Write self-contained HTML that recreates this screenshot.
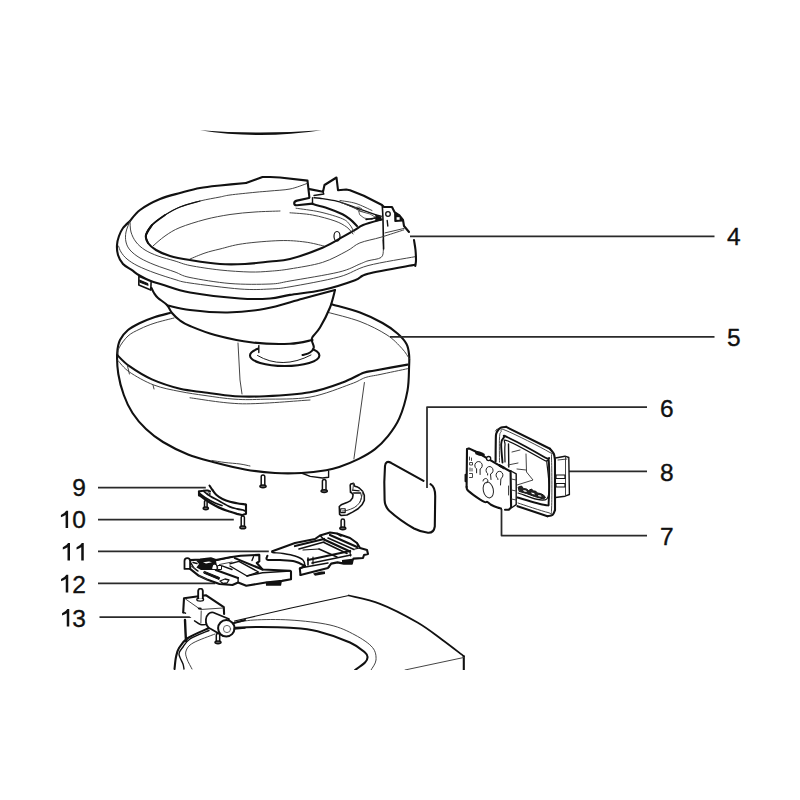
<!DOCTYPE html>
<html><head><meta charset="utf-8">
<style>
html,body{margin:0;padding:0;background:#fff;width:800px;height:800px;overflow:hidden}
svg{display:block}
text{font-family:"Liberation Sans",sans-serif;font-size:24.5px;fill:#111;stroke:#111;stroke-width:0.35}
</style></head><body>
<svg width="800" height="800" viewBox="0 0 800 800" stroke-linecap="round" stroke-linejoin="round">
<path d="M200 130.2 Q260 134.8 321.5 130.2 Q260 139.8 200 130.2Z" fill="#111"/>
<path d="M170.0 313.0 C154.2 315.8 160.0 315.3 155.0 317.0 C150.0 318.7 144.5 320.8 140.0 323.0 C135.5 325.2 131.3 327.2 128.0 330.0 C124.7 332.8 121.8 336.2 120.0 340.0 C118.2 343.8 117.5 347.3 117.2 353.0 C116.9 358.7 117.2 367.0 118.3 374.0 C119.4 381.0 121.4 388.5 123.8 395.0 C126.1 401.5 128.8 407.3 132.5 413.0 C136.2 418.7 140.9 424.2 146.0 429.0 C151.1 433.8 156.0 437.8 163.0 442.0 C170.0 446.2 179.7 451.2 188.0 454.5 C196.3 457.8 203.5 459.5 213.0 462.0 C222.5 464.5 234.7 467.7 245.0 469.5 C255.3 471.3 265.6 472.4 275.0 473.0 C284.4 473.6 293.0 473.5 301.5 473.0 C310.0 472.5 320.0 471.2 326.2 470.2 C332.5 469.2 333.8 468.9 339.2 467.0 C344.7 465.1 352.8 461.9 358.8 458.9 C364.7 455.9 370.1 452.9 375.0 449.1 C379.9 445.3 383.9 441.2 388.0 436.1 C392.1 431.0 396.1 425.8 399.4 418.2 C402.6 410.7 405.9 399.3 407.5 390.6 C409.1 381.9 408.8 372.2 409.1 366.2 C409.4 360.3 409.5 358.6 409.1 354.9 C408.7 351.2 408.4 347.6 406.5 344.0 C404.6 340.4 401.5 337.0 397.5 333.5 C393.5 330.0 388.8 326.5 382.5 323.0 C376.2 319.5 368.5 315.6 360.0 312.5 C351.5 309.4 349.8 306.4 331.5 304.3 C313.2 302.2 276.9 298.6 250.0 300.0 C223.1 301.4 185.8 310.2 170.0 313.0Z" fill="#fff" stroke="none"/>
<path d="M170.0 313.0 C167.5 313.7 160.0 315.3 155.0 317.0 C150.0 318.7 144.5 320.8 140.0 323.0 C135.5 325.2 131.3 327.2 128.0 330.0 C124.7 332.8 121.8 336.2 120.0 340.0 C118.2 343.8 117.5 347.3 117.2 353.0 C116.9 358.7 117.2 367.0 118.3 374.0 C119.4 381.0 121.4 388.5 123.8 395.0 C126.1 401.5 128.8 407.3 132.5 413.0 C136.2 418.7 140.9 424.2 146.0 429.0 C151.1 433.8 156.0 437.8 163.0 442.0 C170.0 446.2 179.7 451.2 188.0 454.5 C196.3 457.8 203.5 459.5 213.0 462.0 C222.5 464.5 234.7 467.7 245.0 469.5 C255.3 471.3 265.6 472.4 275.0 473.0 C284.4 473.6 293.0 473.5 301.5 473.0 C310.0 472.5 320.0 471.2 326.2 470.2 C332.5 469.2 333.8 468.9 339.2 467.0 C344.7 465.1 352.8 461.9 358.8 458.9 C364.7 455.9 370.1 452.9 375.0 449.1 C379.9 445.3 383.9 441.2 388.0 436.1 C392.1 431.0 396.1 425.8 399.4 418.2 C402.6 410.7 405.9 399.3 407.5 390.6 C409.1 381.9 408.8 372.2 409.1 366.2 C409.4 360.3 409.5 358.6 409.1 354.9 C408.7 351.2 408.4 347.6 406.5 344.0 C404.6 340.4 401.5 337.0 397.5 333.5 C393.5 330.0 388.8 326.5 382.5 323.0 C376.2 319.5 368.5 315.6 360.0 312.5 C351.5 309.4 336.2 305.7 331.5 304.3" fill="none" stroke="#111" stroke-width="2.10"/>
<path d="M174.0 318.0 C170.8 318.8 160.7 321.2 155.0 323.0 C149.3 324.8 144.5 326.8 140.0 329.0 C135.5 331.2 131.5 332.8 128.0 336.0 C124.5 339.2 120.7 344.7 119.0 348.0 C117.3 351.3 118.2 354.7 118.0 356.0" fill="none" stroke="#3a3a3a" stroke-width="0.95"/>
<path d="M328.5 312.5 C333.8 314.0 350.2 317.8 360.0 321.5 C369.8 325.2 380.0 330.5 387.0 335.0 C394.0 339.5 398.2 344.5 402.0 348.5 C405.8 352.5 408.2 357.2 409.5 359.0" fill="none" stroke="#3a3a3a" stroke-width="0.95"/>
<path d="M117.2 355.0 C119.2 356.9 123.6 362.2 129.4 366.2 C135.2 370.3 143.5 375.6 151.9 379.4 C160.3 383.1 171.2 386.6 180.0 388.8 C188.8 390.9 195.8 391.2 205.0 392.5 C214.2 393.8 225.0 395.6 235.0 396.2 C245.0 396.9 252.5 396.9 265.0 396.2 C277.5 395.6 297.1 394.5 310.0 392.2 C322.9 390.0 333.6 385.8 342.5 382.5 C351.4 379.2 358.2 374.8 363.6 372.8 C369.0 370.8 367.7 371.9 375.0 370.5 C382.3 369.1 402.1 365.6 407.5 364.6" fill="none" stroke="#111" stroke-width="2.10"/>
<path d="M118.0 360.6 C119.9 362.5 123.4 367.9 129.4 372.0 C135.4 376.1 145.3 381.8 153.8 385.0 C162.2 388.2 171.5 389.8 180.0 391.5 C188.5 393.2 195.8 394.2 205.0 395.5 C214.2 396.8 225.0 398.6 235.0 399.2 C245.0 399.9 252.5 399.6 265.0 399.2 C277.5 398.9 295.7 399.6 310.0 397.1 C324.3 394.6 341.4 387.4 350.6 384.1 C359.8 380.9 360.4 379.2 365.2 377.6 C370.1 376.0 373.0 376.0 380.0 374.5 C387.0 373.0 402.9 369.7 407.5 368.7" fill="none" stroke="#3a3a3a" stroke-width="0.95"/>
<path d="M190.0 397.8 C198.8 398.8 222.5 403.4 242.5 403.8 C262.5 404.1 298.8 400.6 310.0 400.0" fill="none" stroke="#3a3a3a" stroke-width="0.95"/>
<path d="M127.5 366.0 L129.4 374.0" fill="none" stroke="#3a3a3a" stroke-width="0.95"/>
<path d="M153.0 385.0 L154.0 389.0" fill="none" stroke="#3a3a3a" stroke-width="0.95"/>
<path d="M238.0 343.0 L240.0 380.0 L242.0 394.0" fill="none" stroke="#3a3a3a" stroke-width="0.95"/>
<path d="M364.4 382.5 L353.9 458.9" fill="none" stroke="#3a3a3a" stroke-width="0.95"/>
<ellipse cx="284.7" cy="355.5" rx="34.7" ry="10.5" fill="#fff" stroke="#111" stroke-width="2.1"/>
<path d="M257.5 355.5 Q282 370 311 355" fill="none" stroke="#111" stroke-width="0.95"/>
<path d="M130.0 221.0 L140.0 210.0 L160.0 200.0 L190.0 189.0 L205.0 187.5 L230.0 183.8 L246.0 183.0 L262.5 177.0 L270.0 177.0 L307.5 180.6 L323.8 192.5 L337.5 177.5 L346.0 189.4 L381.0 205.0 L393.8 207.5 L401.0 217.5 L409.0 232.5 L415.6 248.8 L415.0 266.0 L370.0 272.5 L345.0 283.8 L335.0 290.0 L328.8 306.0 L320.0 325.0 L312.5 336.0 L312.0 341.0 L313.8 347.5 L310.0 352.5 L258.8 352.5 L258.8 345.6 L230.0 340.0 L190.0 324.0 L176.0 316.0 L168.0 307.0 L154.0 296.0 L151.0 284.0 L130.0 270.0 L118.0 255.0 L117.0 245.0 L123.0 228.0Z" fill="#fff" stroke="none"/>
<path d="M130.0 221.0 C131.7 219.2 135.0 213.7 140.0 210.0 C145.0 206.3 153.3 201.8 160.0 199.0 C166.7 196.2 173.3 194.8 180.0 193.0 C186.7 191.2 193.3 189.2 200.0 188.0 C206.7 186.8 212.3 186.3 220.0 185.5 C227.7 184.7 241.7 183.4 246.0 183.0" fill="none" stroke="#111" stroke-width="2.10"/>
<path d="M246.0 183.0 L262.5 177.0 L270.0 177.0 L280.0 177.5 L307.5 180.6 L309.4 197.5" fill="none" stroke="#111" stroke-width="2.10"/>
<path d="M130.0 221.0 C128.8 222.2 124.8 225.5 123.0 228.0 C121.2 230.5 120.0 233.2 119.0 236.0 C118.0 238.8 117.2 241.8 117.0 245.0 C116.8 248.2 117.0 251.8 118.0 255.0 C119.0 258.2 120.7 261.5 123.0 264.0 C125.3 266.5 129.2 268.3 132.0 270.2 C134.8 272.2 136.4 273.7 139.5 275.5 C142.6 277.3 147.0 279.6 150.8 281.1 C154.5 282.6 155.5 282.6 162.0 284.5 C168.5 286.4 177.0 290.2 190.0 292.5 C203.0 294.8 226.7 297.5 240.0 298.5 C253.3 299.5 261.7 299.1 270.0 298.5 C278.3 297.9 281.2 296.3 290.0 294.9 C298.8 293.5 311.7 292.4 322.5 290.0 C333.3 287.6 347.4 283.0 355.0 280.2 C362.6 277.5 358.0 276.3 368.0 273.8 C378.0 271.2 407.2 266.3 415.1 264.8" fill="none" stroke="#111" stroke-width="2.10"/>
<path d="M130.0 221.0 C129.3 222.8 126.7 228.5 126.0 232.0 C125.3 235.5 125.3 239.0 126.0 242.0 C126.7 245.0 127.7 247.3 130.0 250.0 C132.3 252.7 135.8 255.5 140.0 258.0 C144.2 260.5 149.2 262.7 155.0 265.0 C160.8 267.3 169.2 269.9 175.0 272.0 C180.8 274.1 180.8 275.6 190.0 277.5 C199.2 279.4 216.7 282.4 230.0 283.5 C243.3 284.6 260.0 284.4 270.0 284.0 C280.0 283.6 278.5 283.0 290.0 281.0 C301.5 279.0 327.1 274.9 338.8 272.1 C350.4 269.3 355.0 265.9 359.9 264.0 C364.8 262.1 364.5 261.8 368.0 260.8 C371.5 259.7 378.4 259.4 381.0 257.5 C383.6 255.6 383.1 252.3 383.4 249.4 C383.7 246.5 383.1 241.6 383.0 240.0" fill="none" stroke="#3a3a3a" stroke-width="0.95"/>
<path d="M382.3 205.9 C382.4 207.8 382.7 212.2 382.9 217.0 C383.1 221.8 383.2 229.7 383.3 235.0 C383.4 240.3 383.6 246.7 383.6 249.0" fill="none" stroke="#111" stroke-width="1.60"/>
<path d="M118.5 246.0 C118.9 247.0 119.6 249.8 121.0 252.0 C122.4 254.2 124.2 256.7 127.0 259.0 C129.8 261.3 133.3 263.7 138.0 266.0 C142.7 268.3 148.8 270.8 155.0 273.0 C161.2 275.2 169.2 277.8 175.0 279.5 C180.8 281.2 179.2 281.4 190.0 283.0 C200.8 284.6 226.7 288.0 240.0 289.0 C253.3 290.0 261.7 289.4 270.0 289.0 C278.3 288.6 278.5 288.8 290.0 286.8 C301.5 284.8 325.8 280.5 338.8 277.0 C351.8 273.5 355.3 269.0 368.0 265.6 C380.7 262.2 407.2 258.2 415.1 256.7" fill="none" stroke="#3a3a3a" stroke-width="0.95"/>
<path d="M130.0 221.0 C130.2 222.8 130.0 228.5 131.0 232.0 C132.0 235.5 133.7 239.0 136.0 242.0 C138.3 245.0 141.3 247.7 145.0 250.0 C148.7 252.3 153.0 254.2 158.0 256.0 C163.0 257.8 169.7 259.4 175.0 261.0 C180.3 262.6 182.5 264.0 190.0 265.5 C197.5 267.0 210.0 268.9 220.0 270.0 C230.0 271.1 241.7 271.8 250.0 272.0 C258.3 272.2 263.3 271.7 270.0 271.2 C276.7 270.7 281.2 270.4 290.0 268.9 C298.8 267.4 313.0 265.4 322.5 262.4 C332.0 259.4 340.7 254.2 346.9 251.0 C353.1 247.8 354.2 245.2 359.9 242.9 C365.6 240.6 373.7 239.4 381.0 237.2 C388.3 235.0 400.0 231.1 403.8 229.9" fill="none" stroke="#3a3a3a" stroke-width="0.95"/>
<path d="M307.0 183.5 C304.2 184.4 296.2 187.8 290.0 189.0 C283.8 190.2 275.8 190.4 270.0 191.0 C264.2 191.6 261.7 191.6 255.0 192.3 C248.3 193.0 235.8 194.2 230.0 195.0 C224.2 195.8 225.0 196.0 220.0 197.0 C215.0 198.0 206.7 199.3 200.0 201.0 C193.3 202.7 185.8 204.7 180.0 207.0 C174.2 209.3 167.5 213.7 165.0 215.0" fill="none" stroke="#3a3a3a" stroke-width="0.95"/>
<path d="M200.0 201.0 C196.7 202.0 185.8 204.7 180.0 207.0 C174.2 209.3 169.7 212.0 165.0 215.0 C160.3 218.0 155.2 221.7 152.0 225.0 C148.8 228.3 147.0 233.3 146.0 235.0" fill="none" stroke="#111" stroke-width="1.20"/>
<path d="M165.0 215.0 C162.8 216.7 155.2 221.7 152.0 225.0 C148.8 228.3 146.7 232.0 146.0 235.0 C145.3 238.0 147.7 241.7 148.0 243.0" fill="none" stroke="#111" stroke-width="1.60"/>
<path d="M152.0 225.0 C151.0 226.7 146.7 232.0 146.0 235.0 C145.3 238.0 146.3 240.5 148.0 243.0 C149.7 245.5 152.3 247.8 156.0 250.0 C159.7 252.2 164.3 254.3 170.0 256.0 C175.7 257.7 181.7 258.7 190.0 260.0 C198.3 261.3 210.8 263.3 220.0 264.0 C229.2 264.7 236.7 264.4 245.0 264.0 C253.3 263.6 262.5 262.3 270.0 261.5 C277.5 260.7 281.2 261.4 290.0 259.1 C298.8 256.8 313.6 251.5 322.5 247.8 C331.4 244.0 338.2 239.4 343.6 236.4 C349.0 233.4 351.8 231.8 355.0 229.9 C358.2 228.0 358.6 226.8 363.1 225.0 C367.6 223.2 378.6 220.3 381.8 219.4" fill="none" stroke="#111" stroke-width="2.10"/>
<path d="M280.0 211.0 C275.8 211.2 263.3 211.4 255.0 212.0 C246.7 212.6 238.3 213.2 230.0 214.5 C221.7 215.8 213.3 217.3 205.0 219.5 C196.7 221.7 186.7 224.8 180.0 227.5 C173.3 230.2 169.5 232.9 165.0 236.0 C160.5 239.1 155.0 244.3 153.0 246.0" fill="none" stroke="#3a3a3a" stroke-width="0.95"/>
<path d="M190.0 259.0 C192.5 258.0 200.0 254.7 205.0 253.0 C210.0 251.3 213.8 250.5 220.0 249.0 C226.2 247.5 232.5 245.2 242.5 243.8 C252.5 242.3 269.6 240.9 280.0 240.6 C290.4 240.3 297.7 241.1 305.0 242.0 C312.3 242.9 320.6 245.3 323.8 246.0" fill="none" stroke="#3a3a3a" stroke-width="0.95"/>
<path d="M138.9 276.3 L151.1 281.5 L150.8 290.1 L138.8 284.9Z" fill="#fff" stroke="#111" stroke-width="1.6"/>
<path d="M139.8 280.2 L147.5 283.5 L148 285.2 L140 282.3Z" fill="#111" stroke="#111" stroke-width="1.2"/>
<path d="M151.5 288.0 C151.9 288.8 152.9 291.3 154.0 293.0 C155.1 294.7 155.8 296.0 158.0 298.0 C160.2 300.0 164.7 302.5 167.0 305.0 C169.3 307.5 169.8 310.4 172.0 313.0 C174.2 315.6 177.0 318.3 180.0 320.5 C183.0 322.7 184.2 323.6 190.0 326.0 C195.8 328.4 204.6 332.2 215.0 335.0 C225.4 337.8 240.0 341.0 252.5 342.5 C265.0 344.0 280.0 344.2 290.0 343.8 C300.0 343.3 308.8 340.6 312.5 340.0" fill="none" stroke="#111" stroke-width="2.10"/>
<path d="M167.5 305.5 C171.2 306.2 180.0 308.8 190.0 310.0 C200.0 311.2 215.0 312.7 227.5 312.5 C240.0 312.3 252.5 311.0 265.0 308.8 C277.5 306.5 290.8 301.9 302.5 298.8 C314.2 295.6 329.6 291.5 335.0 290.0" fill="none" stroke="#111" stroke-width="2.10"/>
<path d="M335.0 290.0 C334.2 292.9 332.5 301.2 330.0 307.5 C327.5 313.8 322.9 322.6 320.0 327.5 C317.1 332.4 313.8 334.8 312.5 337.0 C311.2 339.2 311.8 339.2 312.0 341.0 C312.2 342.8 314.1 345.6 313.8 347.5 C313.4 349.4 311.9 351.2 310.0 352.5 C308.1 353.8 303.8 354.6 302.5 355.0" fill="none" stroke="#111" stroke-width="2.10"/>
<path d="M258.8 345.6 L258.8 352.5" fill="none" stroke="#111" stroke-width="1.40"/>
<path d="M309.5 189.1 L323.0 191.8 L324.5 185.0 L336.5 177.5 L338.0 190.2 L346.2 189.5 L350.0 190.2 L363.8 195.8 L382.0 205.0 L384.0 207.0 L392.0 207.0 L393.0 209.0 L394.5 212.0 L399.0 215.0 L403.0 220.0 L404.0 226.0 L409.0 232.0" fill="none" stroke="#111" stroke-width="2.10"/>
<path d="M414.0 240.0 C414.2 241.7 415.2 246.7 415.5 250.0 C415.8 253.3 416.0 257.3 416.0 260.0 C416.0 262.7 415.4 265.0 415.3 266.0" fill="none" stroke="#111" stroke-width="2.10"/>
<path d="M314.0 195.5 L323.8 194.0 L323.0 191.8" fill="none" stroke="#111" stroke-width="1.40"/>
<path d="M309 198 L297 200.6 Q294 201.2 294.2 203.5 Q294.5 205.5 297 205.3 L312.5 203.6" fill="none" stroke="#111" stroke-width="2.1"/>
<path d="M312.5 197.8 L312.5 204.1" fill="none" stroke="#111" stroke-width="1.40"/>
<path d="M312.5 204.1 C315.0 204.8 322.5 206.6 327.5 208.2 C332.5 209.9 338.7 212.4 342.5 214.2 C346.3 216.1 347.8 217.4 350.2 219.4 C352.7 221.4 355.9 224.9 357.0 226.0" fill="none" stroke="#111" stroke-width="2.10"/>
<path d="M314.0 197.8 C315.0 197.8 316.1 197.7 320.0 198.3 C323.9 198.9 331.7 199.9 337.5 201.4 C343.3 202.9 349.2 205.5 355.0 207.5 C360.8 209.5 368.1 212.1 372.5 213.6 C376.9 215.1 379.8 215.8 381.2 216.2" fill="none" stroke="#111" stroke-width="1.40"/>
<path d="M340.0 200.5 C342.7 201.0 350.7 201.8 356.0 203.5 C361.3 205.2 369.3 209.3 372.0 210.5" fill="none" stroke="#3a3a3a" stroke-width="0.95"/>
<path d="M341.0 202.5 C342.8 203.2 347.7 205.1 352.0 207.0 C356.3 208.9 364.5 212.8 367.0 214.0" fill="none" stroke="#3a3a3a" stroke-width="0.95"/>
<path d="M296.0 208.2 C300.0 208.9 312.2 210.2 320.0 212.0 C327.8 213.8 337.5 216.6 342.5 218.8 C347.5 220.9 348.1 222.8 350.0 225.0 C351.9 227.2 353.3 230.8 354.0 232.0" fill="none" stroke="#3a3a3a" stroke-width="0.95"/>
<path d="M290.0 212.8 C293.8 213.1 305.0 213.6 312.5 215.0 C320.0 216.4 329.3 219.0 335.0 221.0 C340.7 223.0 343.9 225.1 346.9 227.2 C349.9 229.4 352.0 232.9 353.0 234.0" fill="none" stroke="#3a3a3a" stroke-width="0.95"/>
<path d="M385.0 232.9 L404.2 228.4" fill="none" stroke="#3a3a3a" stroke-width="0.95"/>
<circle cx="388" cy="214" r="2.3" fill="none" stroke="#111" stroke-width="1.3"/>
<path d="M395 213 L402.5 220.5 L395.2 221.2Z" fill="#111" stroke="#111" stroke-width="1.8"/>
<rect x="396.6" y="217.2" width="3" height="2.6" fill="#fff"/>
<path d="M387.2 220.5 L387.8 226.0" fill="none" stroke="#111" stroke-width="1.40"/>
<path d="M355 207.5 l4 -0.5 l3 2 l-4 0.8z" fill="none" stroke="#444" stroke-width="0.8"/>
<path d="M359 211 l11 3 l5 3 l-3 2.5 l-8 -1.5 l-4 -3z" fill="#fff" stroke="#333" stroke-width="0.8"/>
<path d="M376 215 l5 2 l0 3 l-5 1z" fill="#111" stroke="#111" stroke-width="0.8"/>
<path d="M366.0 219.5 L376.0 218.0" fill="none" stroke="#111" stroke-width="1.40"/>
<ellipse cx="337" cy="236.3" rx="3" ry="4.8" fill="none" stroke="#111" stroke-width="1.2"/>
<path d="M410 236.4H714.5" fill="none" stroke="#2a2a2a" stroke-width="1.75" stroke-linecap="butt"/>
<path d="M390 336.8H714.5" fill="none" stroke="#2a2a2a" stroke-width="1.75" stroke-linecap="butt"/>
<path d="M427 488V407H647" fill="none" stroke="#2a2a2a" stroke-width="1.75" stroke-linecap="butt"/>
<path d="M569 471.3H647" fill="none" stroke="#2a2a2a" stroke-width="1.75" stroke-linecap="butt"/>
<path d="M501.5 501V535.5H647" fill="none" stroke="#2a2a2a" stroke-width="1.75" stroke-linecap="butt"/>
<path d="M98 487.5H205.8" fill="none" stroke="#2a2a2a" stroke-width="1.75" stroke-linecap="butt"/>
<path d="M98 519.6H233.8" fill="none" stroke="#2a2a2a" stroke-width="1.75" stroke-linecap="butt"/>
<path d="M98 551.3H268.8" fill="none" stroke="#2a2a2a" stroke-width="1.75" stroke-linecap="butt"/>
<path d="M98 583.4H215.2" fill="none" stroke="#2a2a2a" stroke-width="1.75" stroke-linecap="butt"/>
<path d="M99.5 617.2H197.5" fill="none" stroke="#2a2a2a" stroke-width="1.75" stroke-linecap="butt"/>
<path d="M423.5 480.8 L391 462.8 Q385.6 460 385 466 L384.3 482 L384.6 500 Q384.8 506.5 389.5 511 Q400 520.5 414 528.5 Q421 532 428 532.8 Q433.8 533.2 434.8 526.5 L435.2 496 Q435.2 487 430.5 484.2" fill="none" stroke="#111" stroke-width="2.1"/>
<path d="M496.2 433.8 L501.2 427.5 L506.2 426.9 L550.0 448.8 L553.8 453.8 L555.0 460.0 L555.0 510.0 L552.5 515.0 L547.5 516.2 L517.5 506.2 L495.6 461.2Z" fill="#fff" stroke="none"/>
<path d="M495.6 461.2 C495.6 457.7 495.7 444.6 495.8 440.0 C495.9 435.4 495.8 435.5 496.2 433.8 C496.7 432.0 497.7 430.5 498.5 429.5 C499.3 428.5 500.0 427.9 501.2 427.5 C502.5 427.1 505.4 427.0 506.2 426.9" fill="none" stroke="#111" stroke-width="2.10"/>
<path d="M506.2 426.9 L550.0 448.8" fill="none" stroke="#111" stroke-width="2.10"/>
<path d="M550.0 448.8 C550.6 449.6 552.9 451.9 553.8 453.8 C554.6 455.6 554.8 459.0 555.0 460.0" fill="none" stroke="#111" stroke-width="2.10"/>
<path d="M555.0 460.0 L555.0 510.0" fill="none" stroke="#111" stroke-width="2.10"/>
<path d="M555.0 510.0 C554.6 510.8 553.8 514.0 552.5 515.0 C551.2 516.0 548.3 516.0 547.5 516.2" fill="none" stroke="#111" stroke-width="2.10"/>
<path d="M547.5 516.2 L517.5 506.2" fill="none" stroke="#111" stroke-width="2.10"/>
<path d="M499.5 462.0 C499.5 458.0 499.2 443.0 499.5 438.0 C499.8 433.0 499.9 433.2 501.0 432.0 C502.1 430.8 498.0 427.2 506.0 430.5 C514.0 433.8 541.4 447.4 549.0 452.0 C556.6 456.6 551.1 448.3 551.5 458.0 C551.9 467.7 552.1 500.9 551.5 510.0 C550.9 519.1 553.6 513.7 548.0 512.5 C542.4 511.3 523.0 504.6 518.0 503.0" fill="none" stroke="#3a3a3a" stroke-width="0.95"/>
<path d="M502.5 462.5 C502.3 459.4 501.0 448.2 501.2 444.0 C501.5 439.8 502.6 438.6 503.8 437.5 C504.9 436.4 501.1 434.2 508.0 437.5 C514.9 440.8 538.2 453.5 545.0 457.5 C551.8 461.5 548.1 454.2 548.8 461.2 C549.4 468.3 549.4 492.7 548.8 500.0 C548.1 507.3 550.2 505.4 545.0 505.0 C539.8 504.6 522.1 498.8 517.5 497.5" fill="none" stroke="#111" stroke-width="1.90"/>
<path d="M505.0 462.0 C505.0 459.2 504.5 448.5 505.0 445.0 C505.5 441.5 501.5 438.5 508.0 441.0 C514.5 443.5 537.3 456.3 543.8 460.0 C550.2 463.7 546.4 456.5 546.9 463.0 C547.4 469.5 551.7 493.8 546.9 498.8 C542.1 503.8 522.8 494.0 518.0 493.0" fill="none" stroke="#111" stroke-width="1.20"/>
<path d="M526.0 454.0 L526.5 472.0 L533.0 480.0 L517.0 485.0" fill="none" stroke="#3a3a3a" stroke-width="0.95"/>
<path d="M517.0 469.0 L526.0 470.0" fill="none" stroke="#3a3a3a" stroke-width="0.95"/>
<path d="M508.5 444.0 L508.8 467.0" fill="none" stroke="#111" stroke-width="1.40"/>
<path d="M512.0 452.0 L520.0 450.0" fill="none" stroke="#3a3a3a" stroke-width="0.95"/>
<path d="M508.0 465.0 L518.0 463.0" fill="none" stroke="#3a3a3a" stroke-width="0.95"/>
<path d="M518.5 487 l3 -1 l2 2.5 l3 0.5 l2 1.5 l3 -1.5 l2 2 l2 0 l2 2 l3 0.5 l3 1.5 l2 2.5 l-2 1.5 l-9 -2.5 l-8 -3 l-7 -2z" fill="#222" stroke="#111" stroke-width="1"/>
<path d="M523 490 l3 0.5 l1 1.5 l-3 -0.5z M531 492.5 l3 0.5 l1 1.5 l-3 -0.5z M538 495 l3 0.5 l0.5 1.2 l-3 -0.5z" fill="#fff"/>
<path d="M556.0 457.5 L565.0 456.2 L568.8 457.5 L569.4 494.5 L565.0 496.2 L557.0 497.5Z" fill="#fff" stroke="none"/>
<path d="M555.5 458.0 L565.0 456.2 L568.8 457.5 L569.4 494.5 L565.0 496.2 L555.5 497.5" fill="none" stroke="#111" stroke-width="1.40"/>
<path d="M558.0 460.0 L567.0 459.0" fill="none" stroke="#3a3a3a" stroke-width="0.95"/>
<path d="M565.5 457.0 L565.5 496.0" fill="none" stroke="#3a3a3a" stroke-width="0.95"/>
<path d="M556 475 h9 v3.5 h-9z M556 483.5 h9 v3.5 h-9z" fill="#fff" stroke="#111" stroke-width="1.2"/>
<path d="M495.5 431.0 L497.0 429.0" fill="none" stroke="#3a3a3a" stroke-width="0.95"/>
<path d="M467.0 449.0 L468.9 448.4 L509.7 471.0 L516.2 473.8 L516.2 504.7 L511.1 507.5 L505.0 509.8 L497.5 507.5 L487.2 501.9 L474.0 495.3 L467.5 486.9Z" fill="#fff" stroke="none"/>
<path d="M466.6 486.9 L467.0 449.0 L468.9 448.4 L475.0 451.2 L488.1 458.8 L497.5 464.4 L509.7 471.0" fill="none" stroke="#111" stroke-width="2.10"/>
<path d="M474.5 450.8 Q479 450.5 484.8 454 L484.5 456.3 Q479 456.5 475.5 454.2Z" fill="#111"/>
<circle cx="488.6" cy="458.6" r="2.1" fill="#fff" stroke="#111" stroke-width="1.3"/>
<path d="M499.5 464.5 l5.5 3 l-1 1.5 l-5 -2.8z" fill="none" stroke="#111" stroke-width="1"/>
<path d="M510.6 471.0 L511.1 507.5 L508.8 509.8 L505.0 509.8" fill="none" stroke="#111" stroke-width="2.10"/>
<path d="M466.6 486.9 C466.8 487.4 466.3 488.6 467.5 490.0 C468.7 491.4 471.2 493.3 474.0 495.3 C476.8 497.3 482.2 500.8 484.4 501.9 C486.6 503.0 486.1 501.4 487.2 501.9 C488.3 502.4 489.3 503.8 491.0 504.7 C492.7 505.6 495.8 506.9 497.5 507.5 C499.2 508.1 500.4 508.3 501.0 508.5" fill="none" stroke="#111" stroke-width="2.10"/>
<path d="M465.6 474.7 L465.6 481.2" fill="none" stroke="#111" stroke-width="2.10"/>
<path d="M511.0 471.0 L516.2 473.8 L516.2 504.7 L512.0 507.5" fill="none" stroke="#111" stroke-width="1.40"/>
<path d="M511.5 479.0 L516.0 480.0" fill="none" stroke="#3a3a3a" stroke-width="0.95"/>
<path d="M511.5 490.0 L516.0 491.0" fill="none" stroke="#3a3a3a" stroke-width="0.95"/>
<path d="M511.5 499.0 L516.0 500.0" fill="none" stroke="#3a3a3a" stroke-width="0.95"/>
<path d="M476.6 472.8 V468.8 A3.7 3.9 0 1 1 480.1 469 V474.5" fill="none" stroke="#222" stroke-width="1"/>
<path d="M487.6 475 V473.5 A3.5 3.8 0 1 1 490.5 474 L491 479.5" fill="none" stroke="#222" stroke-width="1"/>
<path d="M497.9 479.5 V478.5 A3.4 3.8 0 1 1 500.9 478.6 L500.5 485" fill="none" stroke="#222" stroke-width="1"/>
<ellipse cx="488.3" cy="490" rx="5" ry="8" transform="rotate(-12 488.3 490)" fill="none" stroke="#222" stroke-width="1"/>
<path d="M483 481 a2.5 2.5 0 1 1 4 2" fill="none" stroke="#222" stroke-width="1"/>
<path d="M469.5 457 v3 M471.5 458 v2.5 M470 462.5 h2.5 v2.5 h-2.5z M470 468 v3 M472 468.5 v2.5 M469.5 473.5 h3 v4 h-3" fill="none" stroke="#333" stroke-width="0.9"/>
<path d="M508.5 486.0 L508.5 495.0" fill="none" stroke="#3a3a3a" stroke-width="0.95"/>
<path d="M301.5 473.0 L310.2 476.4 L322.5 478.0 L328.6 477.2 L328.6 471.0" fill="none" stroke="#111" stroke-width="1.40"/>
<path d="M212.0 460.5 C214.2 460.8 220.3 461.9 225.0 462.5 C229.7 463.1 235.8 463.4 240.0 464.0 C244.2 464.6 248.3 465.7 250.0 466.0" fill="none" stroke="#3a3a3a" stroke-width="0.95"/>
<path d="M261.2 486.0 V476.8 A1.8 1.8 0 0 1 264.8 476.8 V486.0 Z" fill="#fff" stroke="#111" stroke-width="1.5"/>
<ellipse cx="263.0" cy="486.3" rx="3.1" ry="1.4" fill="#666" stroke="#111" stroke-width="1.5"/>
<path d="M322.4 490.8 V481.4 A1.8 1.8 0 0 1 326.0 481.4 V490.8 Z" fill="#fff" stroke="#111" stroke-width="1.5"/>
<ellipse cx="324.2" cy="491.1" rx="3.1" ry="1.4" fill="#666" stroke="#111" stroke-width="1.5"/>
<path d="M199.0 491.5 L203.0 490.8 L207.5 490.5 L212.5 490.0 L216.5 495.0 L222.5 499.0 L230.0 501.5 L237.0 503.2 L246.0 504.8 L246.0 513.8 L241.9 515.2 L237.0 513.8 L229.5 511.5 L222.0 508.9 L215.0 505.5 L207.5 501.0 L200.0 495.5Z" fill="#fff" stroke="none"/>
<path d="M209.5 485.5 C210.0 486.2 211.3 488.4 212.5 490.0 C213.7 491.6 214.8 493.5 216.5 495.0 C218.2 496.5 220.2 497.9 222.5 499.0 C224.8 500.1 227.6 501.1 230.0 501.8 C232.4 502.5 234.5 502.8 237.0 503.2 C239.5 503.7 243.9 504.2 245.2 504.4" fill="none" stroke="#111" stroke-width="2.10"/>
<path d="M204.0 491.5 C205.0 492.2 207.3 494.3 210.0 496.0 C212.7 497.7 216.8 499.7 220.0 501.5 C223.2 503.3 226.7 505.4 229.5 506.6 C232.3 507.8 234.8 508.3 237.0 508.9 C239.2 509.5 241.8 509.7 243.0 510.0 C244.2 510.3 244.2 510.6 244.5 510.8" fill="none" stroke="#111" stroke-width="1.70"/>
<path d="M199.0 493.0 C200.0 493.8 202.3 495.8 205.0 497.5 C207.7 499.2 212.2 501.7 215.0 503.0 C217.8 504.3 220.8 505.1 222.0 505.5" fill="none" stroke="#111" stroke-width="1.70"/>
<path d="M200.0 495.5 C201.2 496.4 205.0 499.3 207.5 501.0 C210.0 502.7 212.6 504.2 215.0 505.5 C217.4 506.8 219.6 507.9 222.0 508.9 C224.4 509.9 227.0 510.7 229.5 511.5 C232.0 512.3 234.9 513.2 237.0 513.8 C239.1 514.3 241.1 514.8 241.9 515.0" fill="none" stroke="#111" stroke-width="2.30"/>
<path d="M246.0 504.5 L246.0 513.8 L241.9 515.2" fill="none" stroke="#111" stroke-width="2.10"/>
<path d="M199.0 491.5 L199.0 495.5" fill="none" stroke="#111" stroke-width="2.10"/>
<path d="M199.0 491.5 C199.7 491.4 201.6 490.9 203.0 490.8 C204.4 490.6 206.3 490.4 207.5 490.5 C208.7 490.6 209.6 491.3 210.0 491.5" fill="none" stroke="#111" stroke-width="2.10"/>
<ellipse cx="208.5" cy="494" rx="1.6" ry="1.1" fill="none" stroke="#111" stroke-width="1"/>
<path d="M204.5 508.0 V501.8 A1.3 1.3 0 0 1 207.1 501.8 V508.0 Z" fill="#fff" stroke="#111" stroke-width="1.5"/>
<ellipse cx="205.8" cy="508.3" rx="2.6" ry="1.4" fill="#666" stroke="#111" stroke-width="1.5"/>
<path d="M241.2 527.1 V517.6 A1.6 1.6 0 0 1 244.4 517.6 V527.1 Z" fill="#fff" stroke="#111" stroke-width="1.5"/>
<ellipse cx="242.8" cy="527.4" rx="2.9" ry="1.4" fill="#666" stroke="#111" stroke-width="1.5"/>
<path d="M350.8 484.0 L353.6 483.4 L354.8 486.2 L357.6 487.1 L359.2 488.0 L362.6 491.3 L364.3 495.2 L364.3 500.3 L362.0 504.8 L358.1 508.8 L352.5 512.1 L346.9 515.0 L341.2 515.5 L339.6 514.4 L339.3 506.5 L341.2 504.8 L346.9 502.6 L350.2 500.9 L352.5 498.1 L353.1 494.7 L351.4 492.4 L350.5 492.4 L350.2 485.1Z" fill="#fff" stroke="none"/>
<path d="M350.8 484.0 L353.6 483.4 L354.8 486.2 L357.6 487.1 L359.2 488.0 L362.6 491.3 L364.3 495.2 L364.3 500.3 L362.0 504.8 L358.1 508.8 L352.5 512.1 L346.9 515.0 L341.2 515.5 L339.6 514.4 L339.3 506.5 L341.2 504.8 L346.9 502.6 L350.2 500.9 L352.5 498.1 L353.1 494.7 L351.4 492.4 L350.5 492.4 L350.2 485.1 L350.8 484.0" fill="none" stroke="#111" stroke-width="1.60"/>
<path d="M352.5 490.2 L359.2 490.8" fill="none" stroke="#111" stroke-width="1.20"/>
<path d="M353.6 493.0 L360.4 493.0" fill="none" stroke="#111" stroke-width="1.60"/>
<path d="M360.4 493.0 C360.6 493.8 361.7 495.8 361.5 497.5 C361.3 499.2 360.5 501.4 359.2 503.1 C358.0 504.8 356.3 506.4 354.2 507.6 C352.1 508.8 348.9 509.8 346.9 510.4 C344.9 511.0 343.1 510.9 342.4 511.0" fill="none" stroke="#3a3a3a" stroke-width="1.00"/>
<path d="M362.6 491.3 C362.5 492.1 362.2 494.2 361.8 496.0 C361.4 497.8 360.3 501.0 360.0 502.0" fill="none" stroke="#3a3a3a" stroke-width="1.00"/>
<path d="M353.6 483.4 L352.8 490.0" fill="none" stroke="#3a3a3a" stroke-width="1.00"/>
<path d="M340.7 508.8 h4.5 v3.8 h-4.5z" fill="none" stroke="#111" stroke-width="1.1"/>
<path d="M341.1 528.0 V520.7 A1.7 1.7 0 0 1 344.5 520.7 V528.0 Z" fill="#fff" stroke="#111" stroke-width="1.5"/>
<ellipse cx="342.8" cy="528.3" rx="3.0" ry="1.4" fill="#666" stroke="#111" stroke-width="1.5"/>
<path d="M272.3 551.2 L295.0 543.0 L315.0 539.0 L320.0 535.5 L330.0 532.5 L337.0 533.5 L350.0 538.0 L357.0 543.0 L360.0 548.0 L367.0 550.0 L368.0 554.0 L364.0 555.0 L363.0 558.0 L353.5 558.6 L352.5 560.5 L351.9 563.6 L343.8 563.6 L337.5 562.4 L331.2 563.6 L328.8 566.8 L328.0 568.0 L300.5 575.0 L299.8 568.5 L304.4 566.0 L305.0 561.2 L295.0 561.4 L272.3 560.2 L267.4 559.8 L267.4 555.7 L272.3 555.7Z" fill="#fff" stroke="none"/>
<path d="M272.3 551.2 L295.0 543.0 L315.0 539.0 L320.0 535.5 L330.0 532.5 L337.0 533.5 L350.0 538.0 L357.0 543.0 L360.0 548.0 L367.0 550.0 L368.0 554.0 L364.0 555.0 L363.0 558.0 L353.5 558.6 L352.5 560.5 L351.9 563.6 L343.8 563.6 L337.5 562.4 L331.2 563.6 L328.8 566.8" fill="none" stroke="#111" stroke-width="2.10"/>
<path d="M272.3 551.2 C272.4 551.4 270.8 552.1 272.6 552.5 C274.4 552.9 279.3 552.9 283.0 553.5 C286.7 554.1 291.7 554.9 295.0 556.0 C298.3 557.1 301.3 558.3 303.0 560.0 C304.7 561.7 304.7 565.0 305.0 566.0" fill="none" stroke="#111" stroke-width="1.40"/>
<path d="M267.4 555.7 C267.4 556.4 265.3 559.0 267.4 559.8 C269.5 560.5 275.4 559.7 280.0 560.0 C284.6 560.3 290.8 560.4 295.0 561.4 C299.2 562.4 303.3 565.2 305.0 566.0" fill="none" stroke="#111" stroke-width="2.10"/>
<path d="M300.5 575.0 L299.8 568.5 L305.0 566.0" fill="none" stroke="#111" stroke-width="2.10"/>
<path d="M300.5 575.0 L328.0 568.0 L328.8 566.8" fill="none" stroke="#111" stroke-width="2.10"/>
<path d="M300.0 568.0 L328.0 563.0" fill="none" stroke="#111" stroke-width="1.40"/>
<path d="M295.0 546.0 L324.0 539.0" fill="none" stroke="#111" stroke-width="2.30"/>
<path d="M299.0 549.0 L324.0 542.0" fill="none" stroke="#111" stroke-width="1.60"/>
<path d="M308.0 560.0 L350.0 551.0" fill="none" stroke="#111" stroke-width="2.30"/>
<path d="M312.0 563.0 L351.0 555.0" fill="none" stroke="#111" stroke-width="1.60"/>
<path d="M324.0 539.5 L350.0 551.5" fill="none" stroke="#111" stroke-width="2.30"/>
<path d="M324.0 542.5 L347.0 553.5" fill="none" stroke="#111" stroke-width="1.60"/>
<path d="M330.0 535.0 L357.0 547.0" fill="none" stroke="#111" stroke-width="2.30"/>
<path d="M328.0 538.0 L354.0 549.5" fill="none" stroke="#111" stroke-width="1.60"/>
<path d="M319.0 549.0 L337.0 557.0" fill="none" stroke="#111" stroke-width="1.60"/>
<path d="M303.0 550.0 L319.0 549.0" fill="none" stroke="#111" stroke-width="1.20"/>
<path d="M320.0 535.5 L324.0 539.5" fill="none" stroke="#111" stroke-width="1.60"/>
<path d="M337.0 533.5 L341.0 536.0" fill="none" stroke="#111" stroke-width="1.60"/>
<path d="M357.0 543.0 L358.0 546.0" fill="none" stroke="#111" stroke-width="1.20"/>
<path d="M308.0 558.0 L308.0 565.0" fill="none" stroke="#111" stroke-width="1.60"/>
<path d="M313.0 557.0 L313.0 564.0" fill="none" stroke="#111" stroke-width="1.20"/>
<path d="M350.0 551.5 L350.5 556.0" fill="none" stroke="#111" stroke-width="1.20"/>
<path d="M355.0 549.0 L360.0 548.0" fill="none" stroke="#111" stroke-width="1.20"/>
<path d="M342 560 L352 558.8 L352 563.5 L342 563.5Z" fill="#111"/>
<path d="M313 573.5 l8 -2 l4 0 l0 2.5 l-10 1.8z" fill="#111"/>
<path d="M190.1 560.1 L200.1 559.5 L210.8 558.2 L215.8 560.1 L230.0 557.3 L240.6 555.7 L258.5 554.9 L259.3 554.9 L259.3 561.4 L256.8 563.0 L262.5 569.5 L290.2 570.7 L291.0 571.5 L291.0 579.3 L282.0 580.9 L265.8 582.5 L246.3 585.8 L238.1 582.5 L232.4 585.0 L219.5 584.0 L207.0 579.5 L198.9 575.8 L190.1 568.9Z" fill="#fff" stroke="none"/>
<path d="M190.1 560.1 L200.1 559.5 L210.8 558.2 L215.8 560.1 L230.0 557.3 L240.6 555.7 L258.5 554.9 L259.3 554.9 L259.3 561.4 L256.8 563.0 L262.5 569.5 L290.2 570.7 L291.0 571.5 L291.0 579.3 L282.0 580.9 L265.8 582.5 L246.3 585.8 L238.1 582.5 L232.4 585.0 L219.5 584.0 L207.0 579.5 L198.9 575.8 L190.1 568.9 L190.1 560.1" fill="none" stroke="#111" stroke-width="2.10"/>
<path d="M184.5 568.9 V561 A2.8 2.8 0 0 1 190.1 561 V568.9Z" fill="#fff" stroke="#111" stroke-width="1.8"/>
<path d="M234.9 558.1 L262.5 569.5" fill="none" stroke="#111" stroke-width="2.10"/>
<path d="M252.0 560.6 L253.6 556.5" fill="none" stroke="#111" stroke-width="1.40"/>
<path d="M230.0 563.8 L238.9 561.4 L258.5 572.0 L247.0 576.0 L230.0 566.0" fill="none" stroke="#111" stroke-width="1.40"/>
<path d="M247.0 576.0 L262.5 572.8 L290.2 571.0" fill="none" stroke="#111" stroke-width="1.40"/>
<path d="M238.1 577.6 L238.1 582.5" fill="none" stroke="#111" stroke-width="1.40"/>
<path d="M217.0 560.1 L232.0 557.0" fill="none" stroke="#111" stroke-width="1.40"/>
<path d="M219.5 564.5 L232.0 562.0" fill="none" stroke="#3a3a3a" stroke-width="0.95"/>
<path d="M222.0 565.8 L232.0 569.5" fill="none" stroke="#111" stroke-width="1.40"/>
<path d="M215.8 570.1 L238.0 578.0" fill="none" stroke="#111" stroke-width="2.10"/>
<path d="M196 560.5 L210.75 558.25 L215.75 560.1 L217 565.75 L212 570 L201 570.1 L196.4 567.6 L199 564Z" fill="#111"/>
<path d="M203 562.3 l6 -0.9 l3 0.9 l-6 1.3z" fill="#fff"/>
<path d="M191.0 563.0 C191.5 563.8 192.8 566.7 194.0 568.0 C195.2 569.3 197.3 570.5 198.0 571.0" fill="none" stroke="#111" stroke-width="1.40"/>
<path d="M193.0 562.5 L197.0 563.5" fill="none" stroke="#111" stroke-width="1.40"/>
<path d="M190.5 566.0 L196.0 569.5" fill="none" stroke="#3a3a3a" stroke-width="0.95"/>
<path d="M212 567 a2.5 2.8 0 0 1 5 0 v2.5 h-5z" fill="#fff" stroke="#111" stroke-width="1"/>
<path d="M218 565.5 h3.5 v4 h-3.5z" fill="#fff" stroke="#111" stroke-width="1"/>
<path d="M204.5 571.4 L219.5 577.5 L219 579.5 L204 573.2Z" fill="#111" stroke="#111" stroke-width="1"/>
<path d="M198.9 575.8 L207.0 579.5" fill="none" stroke="#3a3a3a" stroke-width="0.95"/>
<path d="M220 581 l5 -2 l4 1 l-2 3 l-4 0.5z" fill="none" stroke="#111" stroke-width="1.3"/>
<path d="M265.8 581.7 L282 580.9 L281 585.8 L266 585.8Z" fill="#111"/>
<path d="M174.5 670.0 C126.5 667.8 175.2 660.7 176.0 657.0 C176.8 653.3 177.0 651.2 179.0 648.0 C181.0 644.8 183.2 641.3 188.0 638.0 C192.8 634.7 200.2 630.8 208.0 628.0 C215.8 625.2 220.8 624.3 234.5 621.0 C248.2 617.7 271.0 612.5 290.0 608.2 C309.0 604.0 333.8 596.2 348.8 595.5 C363.8 594.8 368.5 599.2 380.0 603.8 C391.5 608.2 407.1 616.5 417.5 622.5 C427.9 628.5 434.8 634.4 442.5 640.0 C450.2 645.6 460.2 651.2 463.8 656.2 C467.3 661.2 512.0 667.7 463.8 670.0 C415.5 672.3 222.5 672.2 174.5 670.0Z" fill="#fff" stroke="none"/>
<path d="M234.5 621.0 L290.0 608.2 L348.8 595.5" fill="none" stroke="#111" stroke-width="1.15"/>
<path d="M348.8 595.5 C354.0 596.9 368.5 599.2 380.0 603.8 C391.5 608.2 407.1 616.5 417.5 622.5 C427.9 628.5 434.8 634.4 442.5 640.0 C450.2 645.6 460.2 653.5 463.8 656.2" fill="none" stroke="#111" stroke-width="1.80"/>
<path d="M463.8 656.2 L463.8 670.0" fill="none" stroke="#111" stroke-width="2.10"/>
<path d="M463.8 657.5 L405.0 670.0" fill="none" stroke="#3a3a3a" stroke-width="0.95"/>
<path d="M234.0 623.0 C237.3 622.5 244.7 620.5 254.0 620.0 C263.3 619.5 277.3 619.2 290.0 620.0 C302.7 620.8 319.2 622.5 330.0 625.0 C340.8 627.5 347.9 631.2 355.0 635.0 C362.1 638.8 369.0 643.3 372.5 647.5 C376.0 651.7 376.2 656.2 376.0 660.0 C375.8 663.8 371.8 668.3 371.0 670.0" fill="none" stroke="#3a3a3a" stroke-width="0.95"/>
<path d="M234.5 627.8 C238.8 627.6 250.8 627.0 260.0 627.0 C269.2 627.0 280.4 627.0 290.0 627.8 C299.6 628.5 307.5 628.8 317.5 631.2 C327.5 633.7 342.1 639.0 350.0 642.5 C357.9 646.0 362.1 650.0 365.0 652.5 C367.9 655.0 367.5 655.8 367.5 657.5 C367.5 659.2 367.1 660.4 365.0 662.5 C362.9 664.6 356.7 668.8 355.0 670.0" fill="none" stroke="#111" stroke-width="2.10"/>
<path d="M209.0 628.0 C205.5 629.7 193.0 634.7 188.0 638.0 C183.0 641.3 181.0 644.8 179.0 648.0 C177.0 651.2 176.8 653.5 176.0 657.0 C175.2 660.5 174.8 667.0 174.5 669.0" fill="none" stroke="#111" stroke-width="2.10"/>
<path d="M209.0 630.5 C205.8 631.9 194.3 636.2 190.0 639.0 C185.7 641.8 184.8 644.5 183.0 647.0 C181.2 649.5 179.0 651.2 179.0 654.0 C179.0 656.8 182.2 661.5 183.0 664.0 C183.8 666.5 183.8 668.2 184.0 669.0" fill="none" stroke="#111" stroke-width="1.40"/>
<path d="M215.0 634.0 C211.3 635.5 197.8 640.2 193.0 643.0 C188.2 645.8 187.0 648.3 186.0 651.0 C185.0 653.7 186.0 656.0 187.0 659.0 C188.0 662.0 191.2 667.3 192.0 669.0" fill="none" stroke="#3a3a3a" stroke-width="0.95"/>
<rect x="150" y="670" width="330" height="20" fill="#fff"/>
<path d="M185.0 620.0 L185.5 632.0 L186.0 641.0" fill="none" stroke="#111" stroke-width="2.40"/>
<path d="M184.0 598.2 L205.8 595.2 L223.8 607.2 L224.1 614.0 L207.2 624.5 L200.5 624.5 L194.5 620.8 L186.0 613.0 L183.2 612.5Z" fill="#fff" stroke="none"/>
<path d="M183.2 612.5 L184.0 598.2 L205.8 595.2 L223.8 607.2 L224.1 614.0" fill="none" stroke="#111" stroke-width="2.10"/>
<path d="M183.2 612.5 L185.5 613.2" fill="none" stroke="#111" stroke-width="1.40"/>
<path d="M185.5 599.0 L200.5 609.5 L223.0 608.0" fill="none" stroke="#3a3a3a" stroke-width="0.95"/>
<path d="M201.2 611.0 L200.9 623.0" fill="none" stroke="#3a3a3a" stroke-width="0.95"/>
<path d="M194.5 620.8 C195.5 621.4 198.4 623.9 200.5 624.5 C202.6 625.1 206.1 624.5 207.2 624.5" fill="none" stroke="#111" stroke-width="1.40"/>
<ellipse cx="199.75" cy="608.4" rx="2" ry="1" fill="#111"/>
<path d="M198.3 600 V591 A2.2 2.2 0 0 1 202.7 591 V600" fill="#fff" stroke="#111" stroke-width="1.6"/>
<ellipse cx="200.2" cy="599.5" rx="3.4" ry="1.6" fill="#fff" stroke="#111" stroke-width="1.3"/>
<path d="M198.3 598.5 V591 A2.2 2.2 0 0 1 202.7 591 V598.5" fill="#fff" stroke="#111" stroke-width="1.6"/>
<path d="M213.25 612.5 L229 619 L223 636 L211 629 A6 8 0 0 1 213.25 612.5z" fill="#fff" stroke="#111" stroke-width="1.8"/>
<circle cx="226.3" cy="628.3" r="8.2" fill="#fff" stroke="#111" stroke-width="2"/>
<circle cx="227" cy="629" r="3.6" fill="none" stroke="#555" stroke-width="0.9"/>
<path d="M234.0 623.0 L245.0 620.0" fill="none" stroke="#111" stroke-width="2.10"/>
<path d="M234.0 629.0 L245.0 628.0" fill="none" stroke="#111" stroke-width="1.40"/>
<path d="M216.3 642.0 V635.2 A1.7 1.7 0 0 1 219.7 635.2 V642.0 Z" fill="#fff" stroke="#111" stroke-width="1.5"/>
<ellipse cx="218.0" cy="642.3" rx="3.0" ry="1.4" fill="#666" stroke="#111" stroke-width="1.5"/>
<g>
<text x="727" y="245">4</text>
<text x="727" y="346">5</text>
<text x="660" y="417">6</text>
<text x="660" y="481">8</text>
<text x="660" y="544.5">7</text>
<text x="86" y="496" text-anchor="end">9</text>
<path d="M68.10 510.75 L68.10 528.00 L65.60 528.00 L65.60 514.95 Q63.50 516.35 60.90 517.15 L60.90 515.05 Q64.50 513.55 66.20 510.75 Z" fill="#111"/>
<text x="86" y="528" text-anchor="end">0</text>
<path d="M70.00 543.00 L70.00 560.50 L67.50 560.50 L67.50 547.20 Q65.40 548.60 62.80 549.40 L62.80 547.30 Q66.40 545.80 68.10 543.00 Z" fill="#111"/>
<path d="M83.75 543.00 L83.75 560.50 L81.25 560.50 L81.25 547.20 Q79.15 548.60 76.55 549.40 L76.55 547.30 Q80.15 545.80 81.85 543.00 Z" fill="#111"/>
<path d="M68.25 574.75 L68.25 592.50 L65.75 592.50 L65.75 578.95 Q63.65 580.35 61.05 581.15 L61.05 579.05 Q64.65 577.55 66.35 574.75 Z" fill="#111"/>
<text x="86" y="592.5" text-anchor="end">2</text>
<path d="M69.25 609.00 L69.25 626.50 L66.75 626.50 L66.75 613.20 Q64.65 614.60 62.05 615.40 L62.05 613.30 Q65.65 611.80 67.35 609.00 Z" fill="#111"/>
<text x="86" y="626.5" text-anchor="end">3</text>
</g>
</svg>
</body></html>
